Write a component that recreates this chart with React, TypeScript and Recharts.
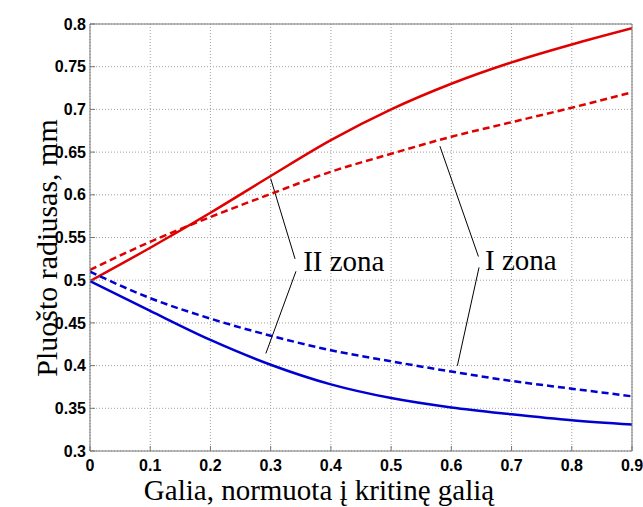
import React from "react";
import {
  LineChart,
  Line,
  XAxis,
  YAxis,
  CartesianGrid,
  ReferenceLine,
  ReferenceDot,
} from "recharts";

const xValues = [0, 0.1, 0.2, 0.3, 0.4, 0.5, 0.6, 0.7, 0.8, 0.9];
const redSolid = [0.499, 0.538, 0.579, 0.622, 0.664, 0.7, 0.73, 0.755, 0.776, 0.795];
const redDashed = [0.512, 0.545, 0.574, 0.601, 0.627, 0.648, 0.668, 0.685, 0.702, 0.72];
const blueDashed = [0.51, 0.479, 0.455, 0.435, 0.418, 0.405, 0.393, 0.382, 0.373, 0.364];
const blueSolid = [0.499, 0.464, 0.43, 0.401, 0.378, 0.362, 0.351, 0.343, 0.336, 0.331];

const xTicks = [0, 0.1, 0.2, 0.3, 0.4, 0.5, 0.6, 0.7, 0.8, 0.9];
const xTickLabels = ["0", "0.1", "0.2", "0.3", "0.4", "0.5", "0.6", "0.7", "0.8", "0.9"];
const yTicks = [0.3, 0.35, 0.4, 0.45, 0.5, 0.55, 0.6, 0.65, 0.7, 0.75, 0.8];
const yTickLabels = ["0.3", "0.35", "0.4", "0.45", "0.5", "0.55", "0.6", "0.65", "0.7", "0.75", "0.8"];

const xTitle = "Galia, normuota į kritinę galią";
const yTitle = "Pluošto radiusas, mm";

// annotation leader segments, data coordinates
const zoneIILines = [
  [{ x: 0.3, y: 0.619 }, { x: 0.3405, y: 0.525 }],
  [{ x: 0.342, y: 0.5104 }, { x: 0.292, y: 0.4142 }],
];
const zoneILines = [
  [{ x: 0.581, y: 0.657 }, { x: 0.645, y: 0.5277 }],
  [{ x: 0.646, y: 0.515 }, { x: 0.61, y: 0.3998 }],
];
const annotations = [
  { x: 0.354, y: 0.511, text: "II zona" },
  { x: 0.656, y: 0.5124, text: "I zona" },
];

const data = xValues.map((x, i) => ({
  x,
  redSolid: redSolid[i],
  redDashed: redDashed[i],
  blueDashed: blueDashed[i],
  blueSolid: blueSolid[i],
}));

const tickFont = {
  fontFamily: "'Liberation Sans', Arial, sans-serif",
  fontWeight: 700,
  fontSize: 16,
  fill: "#000",
};

const serif = "'Liberation Serif', 'Times New Roman', serif";

const labelOf = (ticks: number[], labels: string[]) => (v: number) => {
  const i = ticks.findIndex((t) => Math.abs(t - v) < 1e-9);
  return i >= 0 ? labels[i] : String(v);
};

export default function App() {
  return (
    <div style={{ position: "fixed", left: 0, top: 0, width: 643, height: 507, background: "#fff" }}>
      <LineChart
        width={643}
        height={507}
        data={data}
        margin={{ top: 23, right: 10, bottom: 0, left: 0 }}
      >
        <CartesianGrid stroke="#a0a0a0" strokeDasharray="1 2" />
        <XAxis
          type="number"
          dataKey="x"
          domain={[0, 0.9]}
          ticks={xTicks}
          tickFormatter={labelOf(xTicks, xTickLabels)}
          allowDataOverflow
          height={56}
          stroke="#777"
          tickSize={-5}
          tickMargin={14}
          tick={tickFont}
          label={{
            content: () => (
              <text x={319} y={500} textAnchor="middle" fontFamily={serif} fontSize={29} fill="#000">
                {xTitle}
              </text>
            ),
          }}
        />
        <XAxis
          xAxisId="top"
          orientation="top"
          type="number"
          dataKey="x"
          domain={[0, 0.9]}
          ticks={xTicks}
          allowDataOverflow
          height={1}
          stroke="#777"
          tickSize={-5}
          tick={false}
        />
        <YAxis
          type="number"
          domain={[0.3, 0.8]}
          ticks={yTicks}
          tickFormatter={labelOf(yTicks, yTickLabels)}
          allowDataOverflow
          width={90}
          stroke="#777"
          tickSize={-5}
          tickMargin={9}
          tick={tickFont}
          label={{
            content: () => (
              <text
                x={57}
                y={248}
                textAnchor="middle"
                fontFamily={serif}
                fontSize={30}
                fill="#000"
                transform="rotate(-90, 57, 248)"
              >
                {yTitle}
              </text>
            ),
          }}
        />
        <YAxis
          yAxisId="right"
          orientation="right"
          type="number"
          domain={[0.3, 0.8]}
          ticks={yTicks}
          allowDataOverflow
          width={1}
          stroke="#777"
          tickSize={-5}
          tick={false}
        />
        {[...zoneIILines, ...zoneILines].map((seg, i) => (
          <ReferenceLine key={"seg" + i} segment={seg} stroke="#000" strokeWidth={1} ifOverflow="visible" />
        ))}
        {annotations.map((a, i) => (
          <ReferenceDot
            key={"ann" + i}
            x={a.x}
            y={a.y}
            r={0}
            ifOverflow="visible"
            shape={(p: any) => (
              <text x={p.cx} y={p.cy} fontFamily={serif} fontSize={29} fill="#000">
                {a.text}
              </text>
            )}
          />
        ))}
        <Line type="monotone" dataKey="redSolid" stroke="#e00000" strokeWidth={2.5} dot={false} isAnimationActive={false} />
        <Line type="monotone" dataKey="redDashed" stroke="#e00000" strokeWidth={2.5} strokeDasharray="7 4" dot={false} isAnimationActive={false} />
        <Line type="monotone" dataKey="blueDashed" stroke="#0000d0" strokeWidth={2.5} strokeDasharray="7 4" dot={false} isAnimationActive={false} />
        <Line type="monotone" dataKey="blueSolid" stroke="#0000d0" strokeWidth={2.5} dot={false} isAnimationActive={false} />
      </LineChart>
    </div>
  );
}
